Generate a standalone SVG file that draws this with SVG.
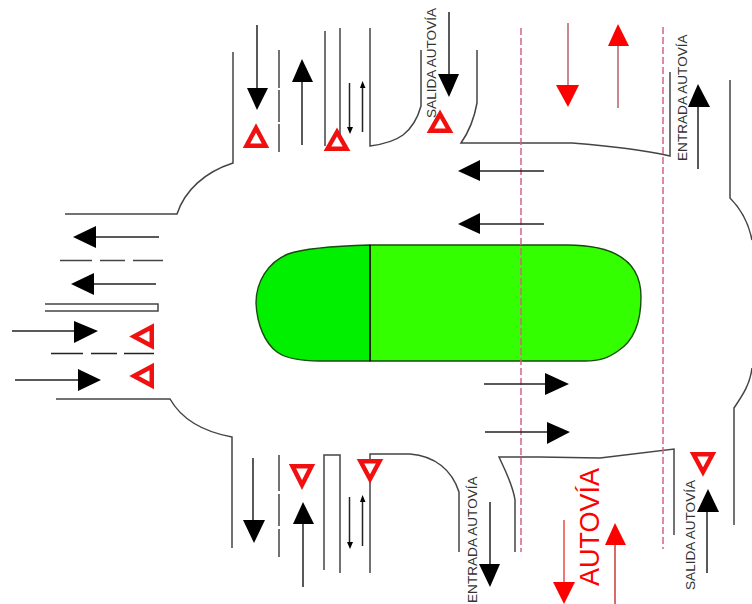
<svg xmlns="http://www.w3.org/2000/svg" width="752" height="604" viewBox="0 0 752 604">
<style>
.k{fill:none;stroke:#444;stroke-width:1.5}
.a{stroke:#222;stroke-width:1.5;fill:none}
.ah{fill:#000}
.r{stroke:#b5606a;stroke-width:1.5;fill:none}
.rh{fill:#f00}
.lane{fill:none;stroke:#d8608a;stroke-width:1.5;stroke-dasharray:7 3}
.y{fill:#fff;stroke:#f01010;stroke-width:4.5}
.t{font-family:"Liberation Sans",Arial,sans-serif;font-size:13.600px;fill:#333}
.big{font-family:"Liberation Sans",Arial,sans-serif;font-size:27px;fill:#f00}
</style>
<g id="island"><path d="M370 245H567C605 245 641 255 641 297C641 325 632 342 618 351C608 358 600 361 585 361H370Z" fill="#33ff00" stroke="#1a4a10" stroke-width="1.400"/><path d="M370 245C335 246 305 248 288 254C268 262 256 282 256 303C257 325 265 343 277 352C288 360 305 361 320 361H370Z" fill="#00f000" stroke="#1a4a10" stroke-width="1.400"/><path d="M370 245V361" stroke="#111" stroke-width="1.400"/></g>
<g id="connectors">
<path class="k" d="M233 52V163C205 172 185 190 177 214H65"/>
<path class="k" d="M56 399H170C182 420 205 432 232 437V548"/>
<path class="k" d="M279 50V152" stroke-dasharray="38 2 32 2 28"/>
<path class="k" d="M325 31V146M340 28V146"/>
<path class="k" d="M370 28V146C385 144 395 141 403 135C412 128 418 117 421 106V50"/>
<path class="k" d="M477 50V103C474 120 468 133 461 143H572C610 146 640 149 670 156V72"/>
<path class="k" d="M730 80V198C742 210 749 225 752 240"/>
<path class="k" d="M60 260.500H163" stroke-dasharray="32 8 25 8 30"/>
<path class="k" d="M45 304H158V311H45"/>
<path class="k" d="M51 353.500H154" stroke-dasharray="32 8 26 7 30" style="stroke:#222"/>
<path class="k" d="M279 455V557" stroke-dasharray="36 3 32 3 28"/>
<path class="k" d="M324 570V455H340V573"/>
<path class="k" d="M370 573V454H410C435 456 452 470 459 492V552"/>
<path class="k" d="M515 552V500C513 485 505 470 499 457H540L600 458L674 449V535"/>
<path class="k" d="M734 525V408C742 396 750 385 752 368"/>
<path class="lane" d="M521 28V552"/>
<path class="lane" d="M663 27V549"/>
<path class="a" d="M257 25V90"/><polygon class="ah" points="247,88 268,88 257,110"/>
<path class="a" d="M302 145V80"/><polygon class="ah" points="292,82 313,82 302,59"/>
<path class="a" d="M349.500 83V130"/><polygon class="ah" points="347,127 353,127 350,134"/>
<path class="a" d="M362.500 132V88"/><polygon class="ah" points="360,88 365.500,88 362.500,81"/>
<path class="a" d="M449 12V76"/><polygon class="ah" points="438,74 459,74 449,97"/>
<path class="a" d="M698 169V106"/><polygon class="ah" points="688,107 710,107 698,84"/>
<path class="a" d="M544 171H478"/><polygon class="ah" points="480,160 480,181 458,171"/>
<path class="a" d="M544 224H478"/><polygon class="ah" points="480,213 480,234 458,224"/>
<path class="a" d="M159 237H95"/><polygon class="ah" points="96,226 96,248 73,237"/>
<path class="a" d="M156 284H93"/><polygon class="ah" points="94,273 94,295 71,284"/>
<path class="a" d="M12 331H76"/><polygon class="ah" points="74,321 74,343 98,331"/>
<path class="a" d="M15 380H79"/><polygon class="ah" points="78,369 78,391 101,380"/>
<path class="a" d="M484 384H547"/><polygon class="ah" points="545,373 545,395 569,384"/>
<path class="a" d="M485 432H548"/><polygon class="ah" points="547,422 547,444 570,432"/>
<path class="a" d="M253 458V522"/><polygon class="ah" points="243,520 265,520 254,543"/>
<path class="a" d="M303 587V524"/><polygon class="ah" points="293,524 314,524 303,502"/>
<path class="a" d="M349.500 497V545"/><polygon class="ah" points="347,542 353,542 350,549"/>
<path class="a" d="M362.500 546V502"/><polygon class="ah" points="360,502 365.500,502 362.500,495"/>
<path class="a" d="M490 502V566"/><polygon class="ah" points="479,564 500,564 490,587"/>
<path class="a" d="M707 573V512"/><polygon class="ah" points="697,512 719,512 708,489"/>
<path class="r" d="M568 23V86"/><polygon class="rh" points="556,85 579,85 568,107"/>
<path class="r" d="M618 108V46"/><polygon class="rh" points="608,46 629,46 618,24"/>
<path class="r" style="stroke:#e84a4a" d="M564 520V584"/><polygon class="rh" points="553,582 575,582 564,604"/>
<path class="r" style="stroke:#c83a3a" d="M615 604V544"/><polygon class="rh" points="605,545 626,545 615,523"/>
</g>
<g id="yields">
<polygon class="y" points="256,128 246.500,145.750 265.500,145.750"/>
<polygon class="y" points="337,132 327.500,148.750 346.500,148.750"/>
<polygon class="y" points="440,114 430.500,130.750 449.500,130.750"/>
<polygon class="y" points="134,336.500 151.750,327 151.750,346"/>
<polygon class="y" points="134,376 151.750,366.500 151.750,385.500"/>
<polygon class="y" points="302,485 292.500,466.250 311.500,466.250"/>
<polygon class="y" points="370,479 360.500,461.250 379.500,461.250"/>
<polygon class="y" points="703,472 693.500,454.250 712.500,454.250"/>
</g>
<g id="labels">
<text class="t" transform="translate(436 118) rotate(-90)">SALIDA AUTOVÍA</text>
<text class="t" transform="translate(687 161) rotate(-90)">ENTRADA AUTOVÍA</text>
<text class="t" transform="translate(477 603) rotate(-90)">ENTRADA AUTOVÍA</text>
<text class="t" transform="translate(695 590) rotate(-90)">SALIDA AUTOVÍA</text>
<text class="big" transform="translate(599 586) rotate(-90)">AUTOVÍA</text>
</g>
</svg>
